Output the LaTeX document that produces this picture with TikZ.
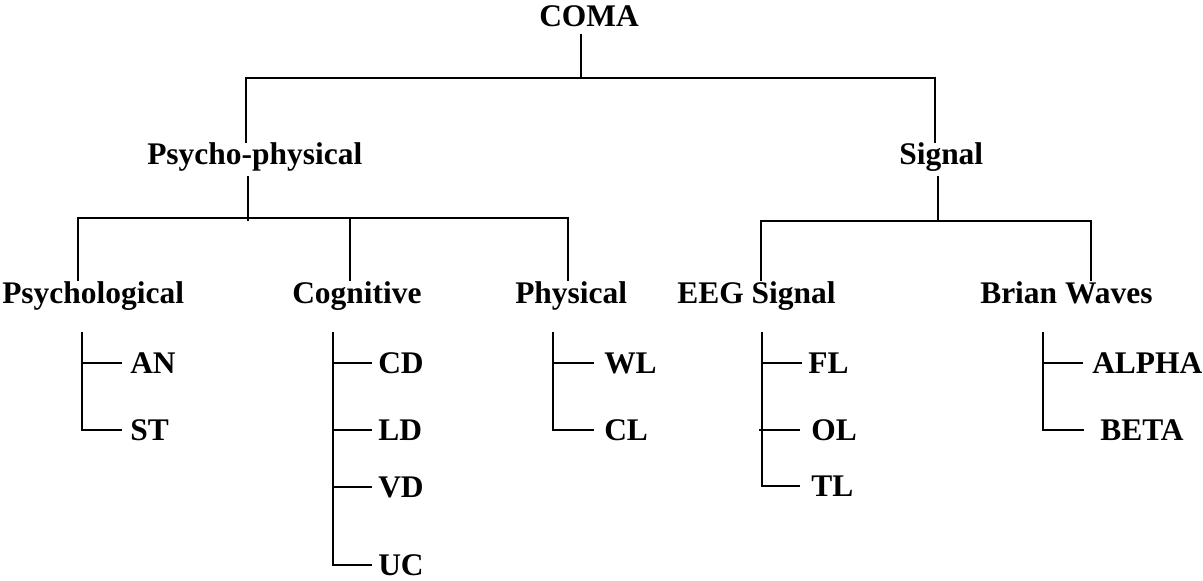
\documentclass[tikz,border=0pt]{standalone}
\usepackage{fontspec}
\setmainfont{Liberation Serif}
\begin{document}
\begin{tikzpicture}[x=0.75pt,y=-0.75pt,
  lbl/.style={anchor=base west,inner sep=0pt,font=\fontsize{23.6}{28}\selectfont\bfseries},
  wire/.style={line width=1.4pt}]
\useasboundingbox (0,0) rectangle (1203,581);

% labels
\node[lbl] (coma)  at (539,27)  {COMA};
\node[lbl] (pp)    at (147,165) {Psycho-physical};
\node[lbl] (sig)   at (899,165) {Signal};
\node[lbl] (psych) at (2,303)   {Psychological};
\node[lbl] (cogn)  at (292,303) {Cognitive};
\node[lbl] (phys)  at (515,303) {Physical};
\node[lbl] (eeg)   at (677,303) {EEG Signal};
\node[lbl] (brain) at (980,303) {Brian Waves};
\node[lbl] (an)    at (130,373) {AN};
\node[lbl] (st)    at (130,440) {ST};
\node[lbl] (cd)    at (378,373) {CD};
\node[lbl] (ld)    at (378,440) {LD};
\node[lbl] (vd)    at (378,497) {VD};
\node[lbl] (uc)    at (378,575) {UC};
\node[lbl] (wl)    at (604,373) {WL};
\node[lbl] (cl)    at (604,440) {CL};
\node[lbl] (fl)    at (808,373) {FL};
\node[lbl] (ol)    at (811,440) {OL};
\node[lbl] (tl)    at (811,496) {TL};
\node[lbl] (alpha) at (1092,373) {ALPHA};
\node[lbl] (beta)  at (1100,440) {BETA};

% junction points of the buses
\coordinate (j0)  at (581,78);
\coordinate (j0L) at (246,78);
\coordinate (j0R) at (935,78);
\coordinate (j1)  at (248,218);
\coordinate (j1L) at (78,218);
\coordinate (j1M) at (350,218);
\coordinate (j1R) at (568,218);
\coordinate (j2)  at (938,221);
\coordinate (j2L) at (761,221);
\coordinate (j2R) at (1091,221);

% tops of the list brackets
\coordinate (b1) at (82,332);
\coordinate (b2) at (333,332);
\coordinate (b3) at (553,332);
\coordinate (b4) at (762,332);
\coordinate (b5) at (1043,332);

% COMA -> two branches
\draw[wire] (j0 |- coma.south) ++(0,6) -- (j0);
\draw[wire] (pp.north -| j0L) -- (j0L) -- (j0R) -- (sig.north -| j0R);

% Psycho-physical -> three branches
\draw[wire] (j1 |- pp.south) ++(0,4) -- (j1) -- ++(0,3);
\draw[wire] (psych.north -| j1L) -- (j1L) -- (j1R) -- (phys.north -| j1R);
\draw[wire] (j1M) -- (cogn.north -| j1M);

% Signal -> two branches
\draw[wire] (j2 |- sig.south) ++(0,4) -- (j2);
\draw[wire] (eeg.north -| j2L) -- (j2L) -- (j2R) -- (brain.north -| j2R);

% Psychological
\draw[wire] (b1) |- ([xshift=-6pt]st.west);
\draw[wire] (b1 |- an.west) -- ([xshift=-6pt]an.west);

% Cognitive
\draw[wire] (b2) |- ([xshift=-4.5pt]uc.west);
\draw[wire] (b2 |- cd.west) -- ([xshift=-4.5pt]cd.west);
\draw[wire] (b2 |- ld.west) -- ([xshift=-4.5pt]ld.west);
\draw[wire] (b2 |- vd.west) -- ([xshift=-4.5pt]vd.west);

% Physical
\draw[wire] (b3) |- ([xshift=-7.5pt]cl.west);
\draw[wire] (b3 |- wl.west) -- ([xshift=-7.5pt]wl.west);

% EEG Signal
\draw[wire] (b4) |- ([xshift=-8pt]tl.west);
\draw[wire] (b4 |- fl.west) -- ([xshift=-4.5pt]fl.west);
\draw[wire] (b4 |- ol.west) ++(-3,0) -- ([xshift=-8pt]ol.west);

% Brian Waves
\draw[wire] (b5) |- ([xshift=-12pt]beta.west);
\draw[wire] (b5 |- alpha.west) -- ([xshift=-6.75pt]alpha.west);
\end{tikzpicture}
\end{document}
